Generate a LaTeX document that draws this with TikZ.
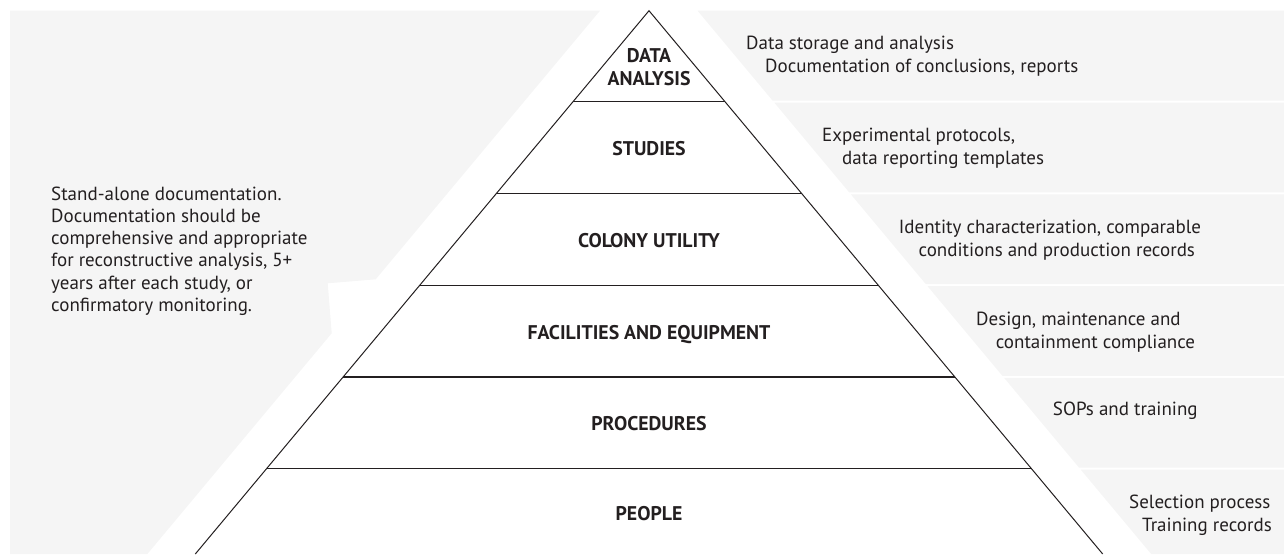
\documentclass[tikz,border=0pt]{standalone}
\usepackage{fontspec}
\setmainfont{PT Sans}
\usetikzlibrary{calc,positioning}
\definecolor{bggray}{RGB}{245,245,245}
\definecolor{ink}{RGB}{35,31,32}
\tikzset{
  level/.style={font=\bfseries\fontsize{19.8}{23}\selectfont, text=ink, anchor=base, inner sep=0pt},
  note/.style={font=\fontsize{19}{23}\selectfont, text=ink, anchor=base west, inner sep=0pt},
  edge/.style={ink, line width=1pt},
  rung/.style={ink, line width=1.3pt}
}

\begin{document}
\begin{tikzpicture}[x=1pt,y=-1pt]
\useasboundingbox (0,0) rectangle (1284,554);

% Background panels.
\fill[bggray] (10,10.7) -- (600,10.7) -- (375.7,279.3) -- (327.7,283.3)
  -- (331.7,333.3) -- (147.4,554) -- (10,554) -- cycle;
\foreach \a/\b in {10.7/100.7, 102.7/192.45, 194.45/284.2, 286.2/375.95, 377.95/467.7, 469.7/554}
  \fill[bggray] ({697.5+0.835*(\a-10.7)},\a) -- (1284,\a) -- (1284,\b)
    -- ({697.5+0.835*(\b-10.7)},\b) -- cycle;

% Pyramid.
\coordinate (apex) at (649,10.7);
\coordinate (bl) at (195.3,554);
\coordinate (br) at (1102.7,554);
\draw[edge] (bl) -- (apex) -- (br);
\foreach \t in {0.1675,0.3364,0.5052,0.6741,0.8430}
  \draw[rung] ($(apex)!\t!(bl)$) -- ($(apex)!\t!(br)$);

% Levels.
\node[level] (data) at (649,62) {DATA};
\node[level] (analysis) at (649,85) {ANALYSIS};
\node[level] (studies) at (649,155.3) {STUDIES};
\node[level] (colony) at (649,247) {COLONY UTILITY};
\node[level] (facilities) at (649,339) {FACILITIES AND EQUIPMENT};
\node[level] (procedures) at (649,430.6) {PROCEDURES};
\node[level] (people) at (649,520.7) {PEOPLE};

% Left note.
\foreach [count=\i from 0] \txt in {Stand-alone documentation., Documentation should be,
  comprehensive and appropriate, {for reconstructive analysis, 5+},
  {years after each study, or}, confirmatory monitoring.}
  \node[note] (left\i) at (51,{200+22.3*\i}) {\txt};

% Right notes.
\node[note] (store) at (746,49.3) {Data storage and analysis};
\node[note] (report) at (765,72.7) {Documentation of conclusions, reports};
\node[note] (proto) at (822,141) {Experimental protocols,};
\node[note] (templ) at (842,164.3) {data reporting templates};
\node[note] (ident) at (898.7,233) {Identity characterization, comparable};
\node[note] (cond) at (918.4,256.7) {conditions and production records};
\node[note] (design) at (976,325) {Design, maintenance and};
\node[note] (contain) at (995.6,348.3) {containment compliance};
\node[note] (sops) at (1052.7,415) {SOPs and training};
\node[note] (select) at (1129,508.3) {Selection process};
\node[note] (train) at (1142,531.7) {Training records};
\end{tikzpicture}
\end{document}
